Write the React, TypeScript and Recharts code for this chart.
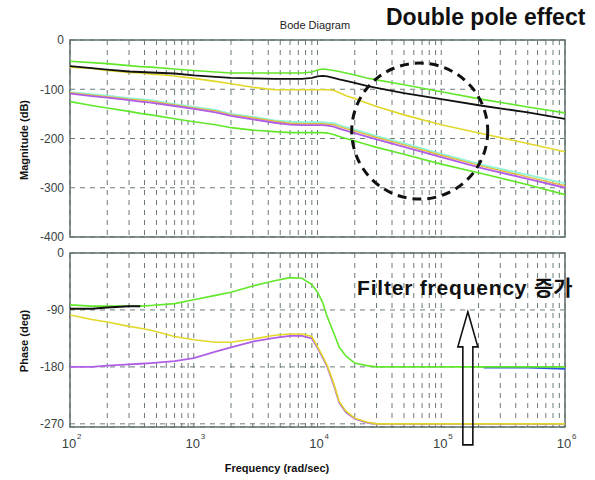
import React from "react";
import {
  LineChart,
  Line,
  XAxis,
  YAxis,
  CartesianGrid,
  ReferenceArea,
  ReferenceDot,
} from "recharts";

// frequency samples (rad/sec)
const freq = [
  100, 150, 200, 300, 370, 450, 700, 1000, 1500, 2000, 3000, 4500, 6000, 7500, 9000, 10000,
  11000, 12000, 13500, 15000, 17000, 20000, 25000, 30000, 50000, 100000, 220000, 500000, 1000000,
];

// magnitude (dB)
const magGreenTop = [-43, -46, -48, -52, -54, -55, -59, -62, -65, -67, -67, -67, -67, -67, -65, -61, -59, -60, -62, -64, -67, -71, -77, -81, -91, -105, -121, -136, -148];
const magBlack = [-53, -57, -60, -64, -65, -66, -68, -72, -75, -77, -78, -79, -79, -79, -77, -74, -73, -74, -77, -80, -83, -87, -93, -97, -108, -120, -134, -147, -160];
const magYellow = [-55, -58, -62, -66, -67, -69, -73, -78, -84, -89, -96, -101, -101, -101, -101, -101, -101, -101, -102, -107, -113, -119, -128, -135, -152, -172, -191, -210, -227];
const magCyan = [-106, -110, -113, -118, -120, -122, -130, -136, -142, -150, -156, -163, -166, -167, -167, -167, -167, -168, -169, -173, -177, -182, -189, -195, -210, -231, -254, -274, -291];
const magOrange = [-107, -112, -115, -120, -122, -124, -132, -138, -144, -152, -158, -165, -169, -170, -170, -170, -170, -171, -172, -176, -180, -185, -192, -198, -213, -234, -257, -278, -296];
const magMagenta = [-109, -114, -117, -122, -125, -127, -134, -140, -147, -154, -161, -168, -172, -173, -173, -173, -173, -174, -176, -180, -184, -189, -196, -202, -217, -238, -261, -282, -300];
const magGreenBottom = [-125, -133, -138, -145, -149, -152, -160, -166, -172, -178, -183, -186, -188, -188, -188, -188, -188, -189, -192, -196, -200, -205, -212, -218, -232, -252, -272, -294, -314];

// phase (deg)
const phaseGreen = [-82, -84, -84, -84, -84, -83, -80, -74, -67, -62, -52, -44, -39, -40, -50, -62, -78, -101, -126, -149, -163, -174, -178, -180, -180, -180, -180, -180, -180];
const phaseBlack = [-88, -88, -86, -84, -84, null, null, null, null, null, null, null, null, null, null, null, null, null, null, null, null, null, null, null, null, null, null, null, null];
const phaseYellow = [-98, -105, -109, -116, -119, -122, -132, -137, -141, -141, -136, -130, -128, -128, -132, -148, -163, -178, -206, -235, -250, -261, -267, -270, -270, -270, -270, -270, -270];
const phaseMagenta = [-180, -180, -178, -176, -175, -174, -171, -166, -156, -149, -140, -134, -131, -131, -135, -150, -165, -180, -208, -237, -252, -262, -268, -270, -270, -270, -270, -270, -270];
const phaseBlue = [null, null, null, null, null, null, null, null, null, null, null, null, null, null, null, null, null, null, null, null, null, null, null, null, null, null, -181, -181, -183];

// axes
const gridFreqs = [
  100, 200, 300, 400, 500, 600, 700, 800, 900,
  1000, 2000, 3000, 4000, 5000, 6000, 7000, 8000, 9000,
  10000, 20000, 30000, 40000, 50000, 60000, 70000, 80000, 90000,
  100000, 200000, 300000, 400000, 500000, 600000, 700000, 800000, 900000,
  1000000,
];
const decadeTicks = [100, 1000, 10000, 100000, 1000000];
const decadeExp = ["2", "3", "4", "5", "6"];
const magTicks = [0, -100, -200, -300, -400];
const phaseTicks = [0, -90, -180, -270];

const data = freq.map((f, i) => ({
  f,
  mG1: magGreenTop[i],
  mK: magBlack[i],
  mY: magYellow[i],
  mC: magCyan[i],
  mO: magOrange[i],
  mM: magMagenta[i],
  mG2: magGreenBottom[i],
  pG: phaseGreen[i],
  pK: phaseBlack[i],
  pY: phaseYellow[i],
  pM: phaseMagenta[i],
  pB: phaseBlue[i],
}));

const FRAME = "#5f6e6e";
const GRID = "#6d7a7a";
const TXT = "#3a4343";
const FONT = "'Liberation Sans', Arial, sans-serif";

const GREEN = "#62e82a";
const YELLOW = "#e2d82a";
const CYAN = "#8ef5d8";
const ORANGE = "#e6b83a";
const MAGENTA = "#b05ee6";
const BLUE = "#2a55e0";

function EmptyTick() {
  return <g />;
}

function DecadeTick(props: any) {
  const { x, y, payload } = props;
  const i = decadeTicks.indexOf(payload.value);
  if (i < 0) return <g />;
  return (
    <g>
      <text x={x - 1} y={y + 21} textAnchor="middle" fontSize={13} fill={TXT} fontFamily={FONT}>
        10
      </text>
      <text x={x + 7} y={y + 12} fontSize={8} fill={TXT} fontFamily={FONT}>
        {decadeExp[i]}
      </text>
    </g>
  );
}

function Circle(p: any) {
  return (
    <circle
      cx={p.cx}
      cy={p.cy}
      r={68}
      fill="none"
      stroke="#111"
      strokeWidth={3}
      strokeDasharray="9 6"
    />
  );
}

function Arrow(p: any) {
  const { cx, cy } = p;
  const pts = [
    [0, 0],
    [10, 35],
    [5, 35],
    [5, 133],
    [-5, 133],
    [-5, 35],
    [-10, 35],
  ]
    .map(([dx, dy]) => `${cx + dx},${cy + dy}`)
    .join(" ");
  return <polygon points={pts} fill="none" stroke="#111" strokeWidth={1.6} />;
}

const yTick = { fontSize: 12, fill: TXT, fontFamily: FONT };

export default function App() {
  return (
    <div
      style={{
        position: "absolute",
        left: 0,
        top: 0,
        width: 595,
        height: 480,
        background: "#fff",
        fontFamily: FONT,
      }}
    >
      <div style={{ position: "absolute", left: 0, top: 0 }}>
        <LineChart width={595} height={250} data={data} margin={{ top: 40, right: 30, bottom: 13, left: 10 }}>
          <CartesianGrid stroke={GRID} strokeDasharray="5 5" />
          <XAxis
            dataKey="f"
            type="number"
            scale="log"
            domain={[100, 1000000]}
            ticks={gridFreqs}
            interval={0}
            allowDataOverflow
            tick={<EmptyTick />}
            tickLine={false}
            axisLine={false}
            tickSize={0}
            height={0}
          />
          <YAxis
            type="number"
            domain={[-400, 0]}
            ticks={magTicks}
            interval={0}
            width={60}
            tick={yTick}
            tickLine={false}
            axisLine={false}
            tickSize={0}
            tickMargin={6}
          />
          <ReferenceArea x1={100} x2={1000000} y1={-400} y2={0} fill="none" stroke={FRAME} strokeWidth={1.5} />
          <Line dataKey="mG1" stroke={GREEN} strokeWidth={1.6} dot={false} isAnimationActive={false} />
          <Line dataKey="mY" stroke={YELLOW} strokeWidth={1.6} dot={false} isAnimationActive={false} />
          <Line dataKey="mK" stroke="#111" strokeWidth={1.8} dot={false} isAnimationActive={false} />
          <Line dataKey="mC" stroke={CYAN} strokeWidth={1.8} dot={false} isAnimationActive={false} />
          <Line dataKey="mO" stroke={ORANGE} strokeWidth={1.4} dot={false} isAnimationActive={false} />
          <Line dataKey="mM" stroke={MAGENTA} strokeWidth={1.8} dot={false} isAnimationActive={false} />
          <Line dataKey="mG2" stroke={GREEN} strokeWidth={1.6} dot={false} isAnimationActive={false} />
          <ReferenceDot x={67000} y={-185} r={68} ifOverflow="visible" shape={Circle} />
        </LineChart>
      </div>

      <div style={{ position: "absolute", left: 0, top: 240 }}>
        <LineChart width={595} height={240} data={data} margin={{ top: 13, right: 30, bottom: 23, left: 10 }}>
          <CartesianGrid stroke={GRID} strokeDasharray="5 5" />
          <XAxis
            dataKey="f"
            type="number"
            scale="log"
            domain={[100, 1000000]}
            ticks={gridFreqs}
            interval={0}
            allowDataOverflow
            tick={<DecadeTick />}
            tickLine={false}
            axisLine={false}
            tickSize={0}
            tickMargin={0}
            height={30}
          />
          <YAxis
            type="number"
            domain={[-275, 0]}
            ticks={phaseTicks}
            interval={0}
            width={60}
            tick={yTick}
            tickLine={false}
            axisLine={false}
            tickSize={0}
            tickMargin={6}
          />
          <ReferenceArea x1={100} x2={1000000} y1={-275} y2={0} fill="none" stroke={FRAME} strokeWidth={1.5} />
          <Line dataKey="pB" stroke={BLUE} strokeWidth={1.8} dot={false} isAnimationActive={false} />
          <Line dataKey="pG" stroke={GREEN} strokeWidth={1.6} dot={false} isAnimationActive={false} />
          <Line dataKey="pK" stroke="#111" strokeWidth={2} dot={false} isAnimationActive={false} />
          <Line dataKey="pM" stroke={MAGENTA} strokeWidth={1.8} dot={false} isAnimationActive={false} />
          <Line dataKey="pY" stroke={YELLOW} strokeWidth={1.6} dot={false} isAnimationActive={false} />
          <ReferenceDot x={164000} y={-93} r={1} ifOverflow="visible" shape={Arrow} />
        </LineChart>
      </div>

      <svg
        width={595}
        height={480}
        style={{ position: "absolute", left: 0, top: 0, pointerEvents: "none" }}
      >
        <text x={315} y={29} textAnchor="middle" fontSize={11} fill="#222" fontFamily={FONT}>
          Bode Diagram
        </text>
        <text x={386} y={25} fontSize={23} fontWeight="bold" fill="#111" fontFamily={FONT}>
          Double pole effect
        </text>
        <text
          transform="translate(28,140) rotate(-90)"
          textAnchor="middle"
          fontSize={11}
          fontWeight="bold"
          fill="#111"
          fontFamily={FONT}
        >
          Magnitude (dB)
        </text>
        <text
          transform="translate(28,341) rotate(-90)"
          textAnchor="middle"
          fontSize={11}
          fontWeight="bold"
          fill="#111"
          fontFamily={FONT}
        >
          Phase (deg)
        </text>
        <text x={277} y={472} textAnchor="middle" fontSize={11} fontWeight="bold" fill="#111" fontFamily={FONT}>
          Frequency (rad/sec)
        </text>
        <text x={357} y={295} fontSize={21} fontWeight="bold" fill="#111" fontFamily={FONT} letterSpacing={0.8}>
          Filter frequency{" "}
          <tspan fontFamily="'Noto Sans CJK KR', sans-serif" fontWeight="bold" letterSpacing={0}>
            증가
          </tspan>
        </text>
      </svg>
    </div>
  );
}
